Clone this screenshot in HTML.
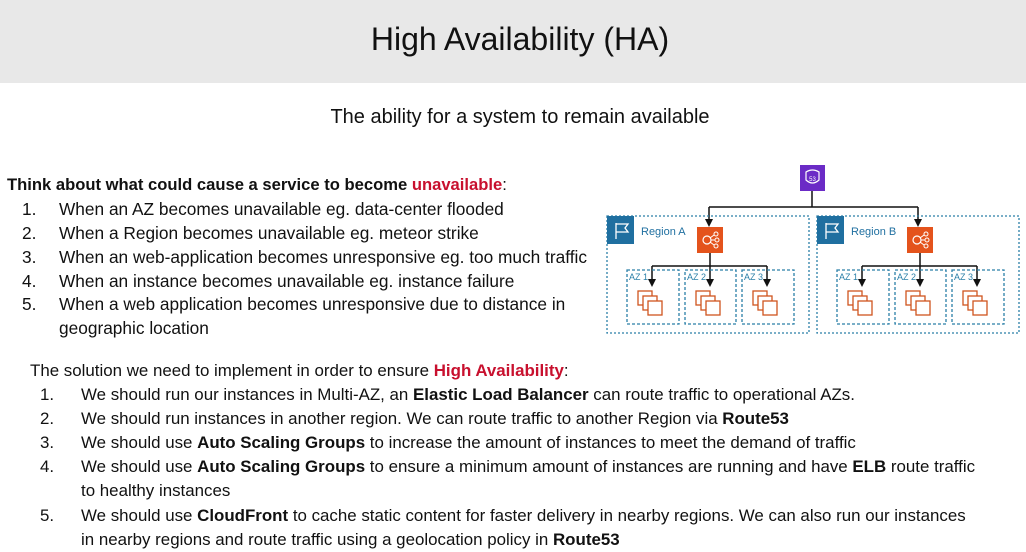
<!DOCTYPE html>
<html><head><meta charset="utf-8"><style>
body{margin:0;width:1026px;height:552px;background:#fff;position:relative;overflow:hidden;font-family:"Liberation Sans",sans-serif;color:#111}
.hdr{position:absolute;left:0;top:0;width:1026px;height:83px;background:#e8e8e8}
.title{position:absolute;left:0;width:1040px;top:21px;text-align:center;font-size:32px;font-family:"Liberation Sans Narrow","Liberation Sans",sans-serif}
.sub{position:absolute;left:0;width:1040px;top:106px;text-align:center;font-size:20px}
.l{position:absolute;font-size:17.3px;white-space:nowrap;line-height:20px}
.m{font-size:16.9px}
.r{color:#c8102e;font-weight:bold}
</style></head><body>
<div class="hdr"></div>
<div class="title">High Availability (HA)</div>
<div class="sub">The ability for a system to remain available</div>

<div class="l" style="left:7px;top:175px;font-weight:bold;font-size:16.6px">Think about what could cause a service to become <span class="r">unavailable</span><span style="font-weight:normal">:</span></div>
<div class="l" style="left:22px;top:199px">1.</div><div class="l" style="left:59px;top:199px">When an AZ becomes unavailable eg. data-center flooded</div>
<div class="l" style="left:22px;top:223px">2.</div><div class="l" style="left:59px;top:223px">When a Region becomes unavailable eg. meteor strike</div>
<div class="l" style="left:22px;top:247px">3.</div><div class="l" style="left:59px;top:247px">When an web-application becomes unresponsive eg. too much traffic</div>
<div class="l" style="left:22px;top:271px">4.</div><div class="l" style="left:59px;top:271px">When an instance becomes unavailable eg. instance failure</div>
<div class="l" style="left:22px;top:294px">5.</div><div class="l" style="left:59px;top:294px">When a web application becomes unresponsive due to distance in</div>
<div class="l" style="left:59px;top:318px">geographic location</div>

<div class="l m" style="left:30px;top:361px">The solution we need to implement in order to ensure <span class="r">High Availability</span>:</div>
<div class="l m" style="left:40px;top:385px">1.</div><div class="l m" style="left:81px;top:385px">We should run our instances in Multi-AZ, an <b>Elastic Load Balancer</b> can route traffic to operational AZs.</div>
<div class="l m" style="left:40px;top:409px">2.</div><div class="l m" style="left:81px;top:409px">We should run instances in another region. We can route traffic to another Region via <b>Route53</b></div>
<div class="l m" style="left:40px;top:433px">3.</div><div class="l m" style="left:81px;top:433px">We should use <b>Auto Scaling Groups</b> to increase the amount of instances to meet the demand of traffic</div>
<div class="l m" style="left:40px;top:457px">4.</div><div class="l m" style="left:81px;top:457px">We should use <b>Auto Scaling Groups</b> to ensure a minimum amount of instances are running and have <b>ELB</b> route traffic</div>
<div class="l m" style="left:81px;top:481px">to healthy instances</div>
<div class="l m" style="left:40px;top:506px">5.</div><div class="l m" style="left:81px;top:506px">We should use <b>CloudFront</b> to cache static content for faster delivery in nearby regions. We can also run our instances</div>
<div class="l m" style="left:81px;top:530px">in nearby regions and route traffic using a geolocation policy in <b>Route53</b></div>

<svg style="position:absolute;left:0;top:0" width="1026" height="552">
<defs>
<g id="inst" fill="#fff" stroke="#d0541e" stroke-width="1.3"><rect x="0" y="0" width="14" height="14"/><rect x="5" y="5" width="14" height="14"/><rect x="10" y="10" width="14" height="14"/></g>
<g id="region">
<rect x="0" y="0" width="202" height="117" fill="none" stroke="#2b7fa8" stroke-width="1.3" stroke-dasharray="2,2"/>
<rect x="0" y="0" width="27" height="28" fill="#1f6fa0"/>
<path d="M9,7 V23 M9,8 H21 L18,12 L21,16 H9" stroke="#fff" fill="none" stroke-width="1.3"/>
<rect x="90" y="11" width="26" height="26" fill="#e4531c"/>
<circle cx="100" cy="24" r="4" fill="none" stroke="#fff" stroke-width="1.2"/><circle cx="109" cy="18" r="2" fill="none" stroke="#fff"/><circle cx="110" cy="24" r="2" fill="none" stroke="#fff"/><circle cx="109" cy="30" r="2" fill="none" stroke="#fff"/>
<path d="M103,22 L107,19 M104,24 H108 M103,26 L107,29" stroke="#fff"/>
<path d="M103,37 V50 M45,50 H160 M45,50 V64 M103,50 V64 M160,50 V64" stroke="#111" stroke-width="1.5" fill="none"/>
<g fill="none" stroke="#2b7fa8" stroke-width="1.3" stroke-dasharray="3,2"><rect x="20" y="54" width="52" height="54"/><rect x="78" y="54" width="51" height="54"/><rect x="135" y="54" width="52" height="54"/></g>
<path d="M41,63 h8 l-4,8z M99,63 h8 l-4,8z M156,63 h8 l-4,8z" fill="#111"/>
<g font-size="9" fill="#2b7fa8"><text x="22" y="64">AZ 1</text><text x="80" y="64">AZ 2</text><text x="137" y="64">AZ 3</text></g>
<use href="#inst" x="31" y="75"/><use href="#inst" x="89" y="75"/><use href="#inst" x="146" y="75"/>
</g>
</defs>
<rect x="800" y="165" width="25" height="26" fill="#6b2bc6"/>
<path d="M806,172 q6.5,-4 13,0 v8 q-6.5,6 -13,0z" fill="none" stroke="#fff" stroke-width="1.2"/>
<text x="812.5" y="181" font-size="6" fill="#fff" text-anchor="middle">53</text>
<path d="M812,191 V207 M709,207 H918 M709,207 V219 M918,207 V219" stroke="#111" stroke-width="1.5" fill="none"/>
<path d="M705,219 h8 l-4,8z M914,219 h8 l-4,8z" fill="#111"/>
<use href="#region" x="607" y="216"/>
<use href="#region" x="817" y="216"/>
<text x="641" y="235" font-size="11" fill="#1f6fa0">Region A</text>
<text x="851" y="235" font-size="11" fill="#1f6fa0">Region B</text>
</svg>
</body></html>
